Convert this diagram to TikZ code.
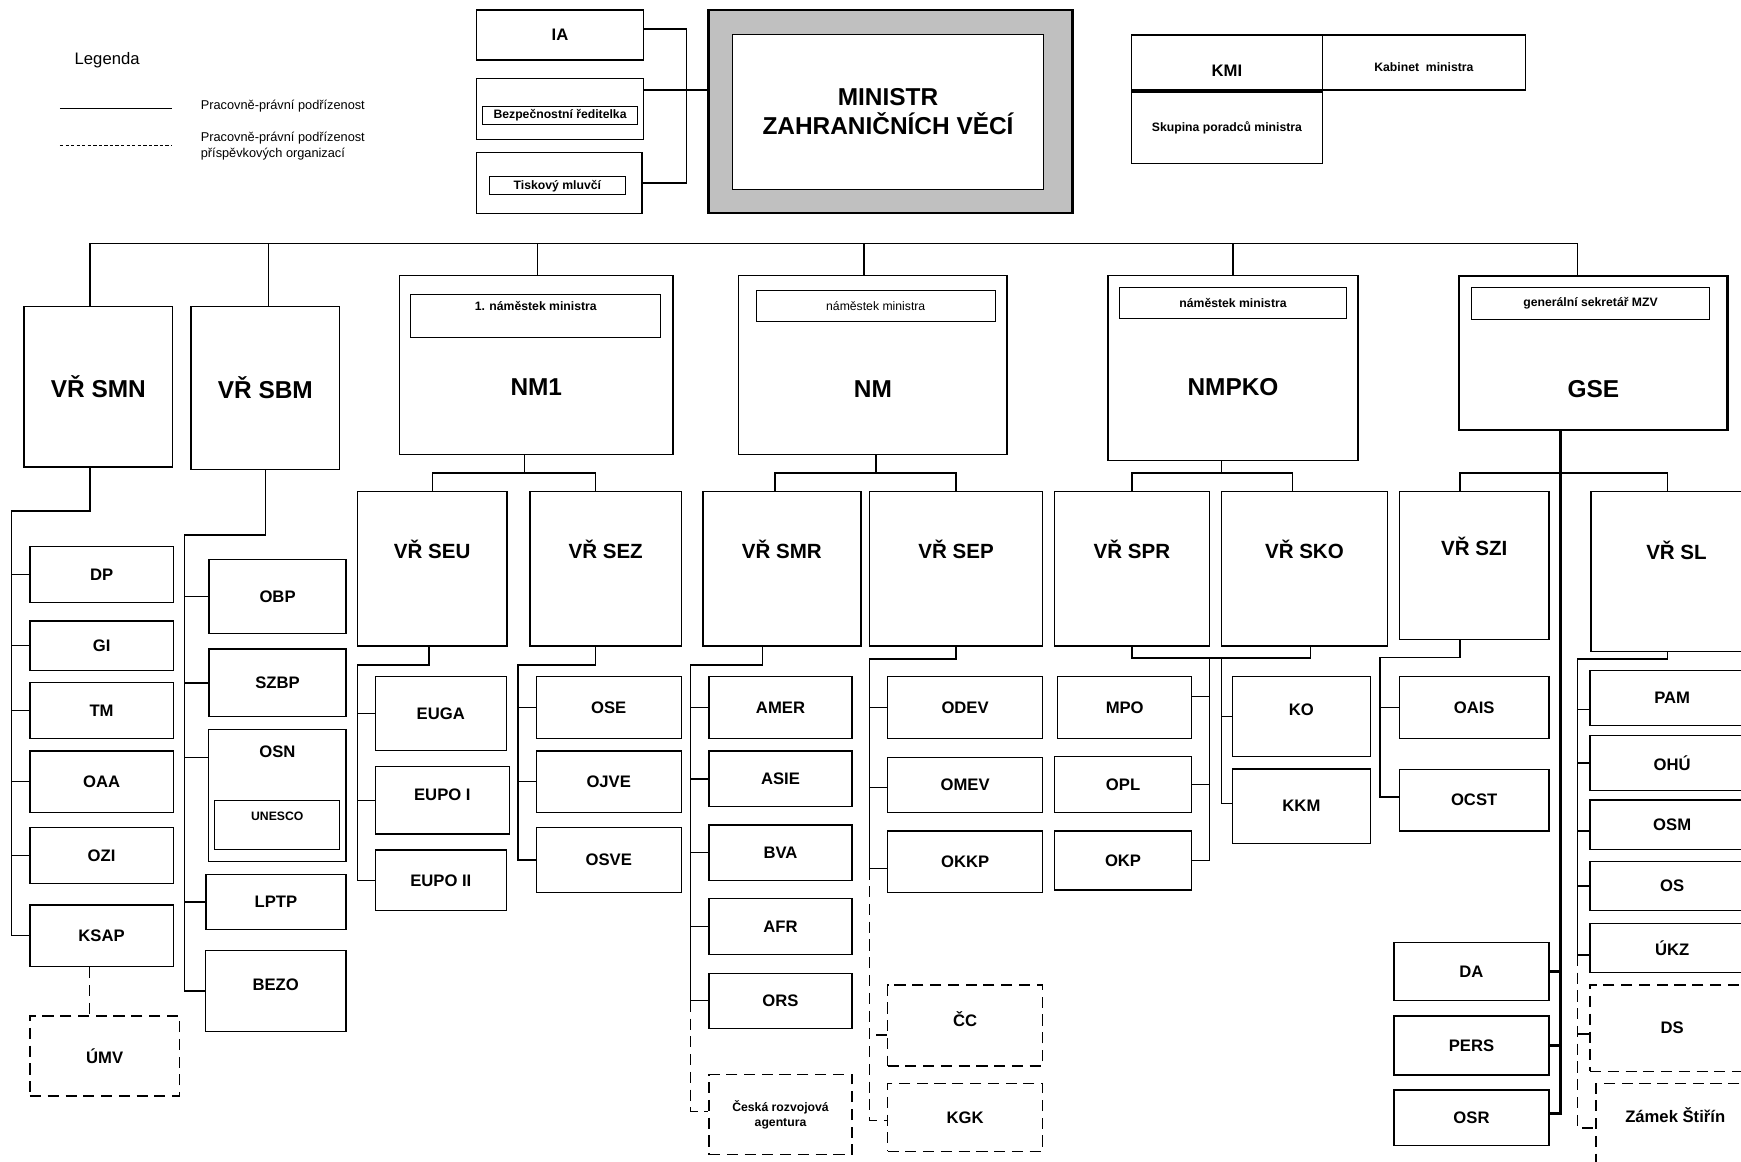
\documentclass[tikz,border=0pt]{standalone}
\usepackage{fontspec}
\setmainfont{Liberation Sans}
\usetikzlibrary{positioning}
\definecolor{mingray}{HTML}{C0C0C0}
\tikzset{
  sz/.style 2 args={minimum width=#1pt, minimum height=#2pt},
  box/.style={draw, line width=1.2pt, inner sep=0pt, align=center},
  leaf/.style={box, font=\bfseries\fontsize{15}{18}\selectfont},
  dleaf/.style={leaf, dash pattern=on 10pt off 6pt},
  big/.style={box, font=\bfseries\fontsize{22}{26}\selectfont},
  vr/.style={box, font=\bfseries\fontsize{18.5}{22}\selectfont, text height=13.2pt, text depth=32.6pt},
  tag/.style={box, line width=0.9pt, font=\bfseries\fontsize{11}{13}\selectfont},
  legtxt/.style={inner sep=0pt, anchor=west, align=left, font=\fontsize{11.5}{14.5}\selectfont},
  link/.style={line width=1.2pt},
  dlink/.style={line width=1.2pt, dash pattern=on 10pt off 6pt},
  trunk/.style={line width=2.2pt}
}
\begin{document}
\begin{tikzpicture}[x=1pt,y=-1pt]
\useasboundingbox (0,0) rectangle (1568,1046);
\clip (0,0) rectangle (1568,1046);
% legenda
\node[font=\fontsize{15}{18}\selectfont] (legenda) at (96.5,54) {Legenda};
\coordinate (lg1a) at (54,98);
\coordinate (lg1b) at (155,98);
\coordinate (lg2a) at (54,131);
\coordinate (lg2b) at (155,131);
\draw[link] (lg1a) -- (lg1b);
\draw[line width=0.7pt, dash pattern=on 3pt off 2pt] (lg2a) -- (lg2b);
\node[legtxt] (lgt1) at (180.7,96) {Pracovně-právní podřízenost};
\node[legtxt] (lgt2) at (180.7,131.5) {Pracovně-právní podřízenost\\příspěvkových organizací};

% ministr
\node[leaf, sz={150}{45}] (ia) at (504.4,31.5) {IA};
\node[box, sz={150}{55}] (bezp) at (504.4,98) {};
\node[tag, sz={140}{16.5}] (bezpt) at (504.4,103.8) {Bezpečnostní ředitelka};
\node[box, sz={148.7}{54.5}] (tisk) at (503.7,164.8) {};
\node[tag, sz={123}{16.6}] (tiskt) at (502,167.3) {Tiskový mluvčí};
\node[box, fill=mingray, line width=2.2pt, sz={328}{183}] (minbox) at (802,100.5) {};
\node[big, fill=white, line width=1pt, sz={279.5}{139.5}] (minister) at (799.8,100.8) {MINISTR\\ZAHRANIČNÍCH VĚCÍ};
\node[leaf, sz={171.6}{49.5}, text height=24.7pt, text depth=0pt] (kmi) at (1105,56.25) {KMI};
\node[tag, line width=1.2pt, sz={183.1}{49.5}, text height=15.9pt, text depth=0pt] (kab) at (1282.4,56.25) {Kabinet\ \ ministra};
\node[tag, line width=1.2pt, sz={171.6}{64}] (skup) at (1105,115) {Skupina poradců ministra};
\draw[link] ([yshift=5.5pt]ia.east) -| ([xshift=39.5pt]tisk.east) -- (tisk.east);
\draw[link] ([yshift=17pt]bezp.east) -- ([yshift=17pt]bezp.east -| minbox.west);

% sekce a namestci
\node[big, sz={134}{144.6}] (smn) at (88.6,348.3) {VŘ SMN};
\node[big, sz={134}{146.7}] (sbm) at (239,349.4) {VŘ SBM};
\node[big, sz={246}{161.2}, text height=53.75pt, text depth=0pt] (nm1) at (483,328.9) {NM1};
\node[tag, sz={225}{38.8}, text height=7.9pt, text depth=16.8pt] (nm1t) at (482.5,284.4) {1. náměstek ministra};
\node[big, sz={241.7}{161.2}, text height=57.75pt, text depth=0pt] (nm) at (786.2,328.9) {NM};
\node[tag, font=\fontsize{11}{13}\selectfont, sz={215}{27.7}] (nmt) at (788.7,275.9) {náměstek ministra};
\node[big, sz={225}{166.2}, text height=48.95pt, text depth=0pt] (nmpko) at (1110.5,331.4) {NMPKO};
\node[tag, sz={205}{28}] (nmpkot) at (1110.5,273) {náměstek ministra};
\node[big, line width=2.2pt, sz={242}{138.7}, text height=79.75pt, text depth=0pt] (gse) at (1435,317.7) {GSE};
\node[tag, sz={215}{28.3}] (gset) at (1432.5,273.2) {generální sekretář MZV};
\draw[link] ([xshift=-7.6pt]smn.north) -- ++(0,-56) -| ([xshift=-14pt]gse.north);
\draw[link] ([xshift=2.9pt]sbm.north) -- ++(0,-56);
\draw[link] ([xshift=1pt]nm1.north) -- ++(0,-28.3);
\draw[link] ([xshift=-8.2pt]nm.north) -- ++(0,-28.3);
\draw[link] (nmpko.north) -- ++(0,-28.3);

\node[vr, sz={134.5}{139}] (seu) at (389.25,512.3) {VŘ SEU};
\node[vr, sz={136.1}{139}] (sez) at (545.5,512.3) {VŘ SEZ};
\node[vr, sz={142.3}{139}] (smr) at (704.2,512.3) {VŘ SMR};
\node[vr, sz={155.8}{139}] (sep) at (861.1,512.3) {VŘ SEP};
\node[vr, sz={139.6}{139}] (spr) at (1019.4,512.3) {VŘ SPR};
\node[vr, sz={149.8}{139}] (sko) at (1174.8,512.3) {VŘ SKO};
\node[vr, sz={134.4}{133}, text depth=30.6pt] (szi) at (1327.8,509.3) {VŘ SZI};
\node[vr, sz={154.3}{144.2}, text depth=35.8pt] (sl) at (1509.9,514.9) {VŘ SL};
\draw[link] ([xshift=-10.5pt]nm1.south) -- ++(0,17);
\draw[link] (seu.north) -- ++(0,-16.3) -| ([xshift=-9.1pt]sez.north);
\draw[link] ([xshift=2.8pt]nm.south) -- ++(0,17);
\draw[link] ([xshift=-6.2pt]smr.north) -- ++(0,-16.3) -| (sep.north);
\draw[link] ([xshift=-10.5pt]nmpko.south) -- ++(0,12);
\draw[link] (spr.north) -- ++(0,-16.3) -| ([xshift=-10.8pt]sko.north);
\draw[link] ([xshift=-12.8pt]szi.north) -- ++(0,-16.3) -| ([xshift=-7.9pt]sl.north);

% odbory VR SMN
\node[leaf, sz={129}{50.4}] (dp) at (91.5,517.6) {DP};
\node[leaf, sz={129}{44.7}] (gi) at (91.5,581.65) {GI};
\node[leaf, sz={129}{50.2}] (tm) at (91.5,639.9) {TM};
\node[leaf, sz={129}{55.2}] (oaa) at (91.5,704) {OAA};
\node[leaf, sz={129}{50.2}] (ozi) at (91.5,770.5) {OZI};
\node[leaf, sz={129}{55.6}] (ksap) at (91.5,842.8) {KSAP};
\node[dleaf, sz={134.6}{72}] (umv) at (94.3,951) {ÚMV};
\draw[link] ([xshift=-7.6pt]smn.south) -- ++(0,39) -| ([xshift=-16pt]ksap.west) -- (ksap.west);
\draw[link] (dp.west) -- ++(-16,0);
\draw[link] (gi.west) -- ++(-16,0);
\draw[link] (tm.west) -- ++(-16,0);
\draw[link] (oaa.west) -- ++(-16,0);
\draw[link] (ozi.west) -- ++(-16,0);
\draw[dlink] ([xshift=-11pt]ksap.south) -- ([xshift=-13.8pt]umv.north);

% odbory VR SBM
\node[leaf, sz={123.3}{66.6}] (obp) at (250,537.1) {OBP};
\node[leaf, sz={123.3}{61}] (szbp) at (250,615) {SZBP};
\node[leaf, sz={123.6}{119}, text height=10.7pt, text depth=79pt] (osn) at (249.8,716.5) {OSN};
\node[tag, sz={112.6}{44.5}, text height=7.9pt, text depth=15.5pt] (unesco) at (249.7,742.75) {UNESCO};
\node[leaf, sz={126.2}{49.5}] (lptp) at (248.5,812.25) {LPTP};
\node[leaf, sz={126.6}{72.8}, text height=10.7pt, text depth=11.2pt] (bezo) at (248.3,892.6) {BEZO};
\draw[link] (sbm.south) -- ++(0,58.6) -| ([xshift=-18.2pt]bezo.west) -- (bezo.west);
\draw[link] (obp.west) -- ++(-21.5,0);
\draw[link] (szbp.west) -- ++(-21.5,0);
\draw[link] ([yshift=34.5pt]osn.west) -- ++(-21.2,0);
\draw[link] (lptp.west) -- ++(-18.6,0);

% odbory VR SEU, SEZ
\node[leaf, sz={118}{66.5}] (euga) at (397,642.75) {EUGA};
\node[leaf, sz={120.8}{60.5}, text height=10.7pt, text depth=9.5pt] (eupo1) at (398.4,720.75) {EUPO I};
\node[leaf, sz={118}{54.4}] (eupo2) at (397,792.8) {EUPO II};
\draw[link] ([xshift=-2.75pt]seu.south) -- ++(0,16.5) -| ([xshift=-15.5pt]eupo2.west) -- (eupo2.west);
\draw[link] (euga.west) -- ++(-15.5,0);
\draw[link] (eupo1.west) -- ++(-15.5,0);
\node[leaf, sz={130.5}{55.5}] (ose) at (548.25,637.25) {OSE};
\node[leaf, sz={130.5}{55.2}] (ojve) at (548.25,704) {OJVE};
\node[leaf, sz={130.5}{58.3}] (osve) at (548.25,774.55) {OSVE};
\draw[link] ([xshift=-9.1pt]sez.south) -- ++(0,16.5) -| ([xshift=-16pt]osve.west) -- (osve.west);
\draw[link] (ose.west) -- ++(-16,0);
\draw[link] (ojve.west) -- ++(-16,0);

% odbory VR SMR, SEP
\node[leaf, sz={128.7}{55.5}] (amer) at (702.95,637.25) {AMER};
\node[leaf, sz={128.7}{50.1}] (asie) at (702.95,701.45) {ASIE};
\node[leaf, sz={128.7}{50}] (bva) at (702.95,768) {BVA};
\node[leaf, sz={128.7}{50.5}] (afr) at (702.95,834.25) {AFR};
\node[leaf, sz={128.7}{49.4}] (ors) at (702.95,901.3) {ORS};
\node[dleaf, font=\bfseries\fontsize{11}{14}\selectfont, sz={128.7}{72}] (cra) at (702.95,1004) {Česká rozvojová\\agentura};
\draw[link] ([xshift=-17.2pt]smr.south) -- ++(0,16.5) -| ([xshift=-16.1pt]ors.west) -- (ors.west);
\draw[dlink] ([xshift=-16.1pt]ors.west) |- ([yshift=3pt]cra.west);
\draw[link] (amer.west) -- ++(-16.1,0);
\draw[link] (asie.west) -- ++(-16.1,0);
\draw[link] (bva.west) -- ++(-16.1,0);
\draw[link] (afr.west) -- ++(-16.1,0);
\node[leaf, sz={139.6}{55.5}] (odev) at (869.2,637.25) {ODEV};
\node[leaf, sz={139.6}{49.6}] (omev) at (869.2,706.8) {OMEV};
\node[leaf, sz={139.6}{55.2}] (okkp) at (869.2,776.1) {OKKP};
\node[dleaf, sz={139.6}{73}, text height=10.7pt, text depth=9.6pt] (cc) at (869.2,923.5) {ČC};
\node[dleaf, sz={139.6}{61}] (kgk) at (869.2,1006.5) {KGK};
\draw[link] (sep.south) -- ++(0,11.2) -| ([xshift=-15.9pt,yshift=-6pt]okkp.west) -- ([yshift=-6pt]okkp.west);
\draw[dlink] ([xshift=-15.9pt,yshift=-6pt]okkp.west) |- ([yshift=-2.5pt]kgk.west);
\draw[dlink] ([yshift=-8.5pt]cc.west) -- ++(-15.9,0);
\draw[link] (odev.west) -- ++(-15.9,0);
\draw[link] ([yshift=-2.6pt]omev.west) -- ++(-15.9,0);

% odbory VR SPR, SKO
\node[leaf, sz={120.7}{55.6}] (mpo) at (1012.95,637.2) {MPO};
\node[leaf, sz={123.7}{50.1}] (opl) at (1011.45,706.55) {OPL};
\node[leaf, sz={123.7}{53}] (okp) at (1011.45,775) {OKP};
\node[leaf, sz={123.8}{72.1}, text height=10.7pt, text depth=13pt] (ko) at (1172.1,645.45) {KO};
\node[leaf, sz={123.8}{66.9}] (kkm) at (1172.1,726.05) {KKM};
\draw[link] (spr.south) -- ++(0,10.2) -| ([xshift=5.2pt]sko.south);
\draw[link] (okp.east) -| ([xshift=69.8pt,yshift=-10.2pt]spr.south);
\draw[link] ([yshift=9.7pt]mpo.east) -- ++(15.9,0);
\draw[link] (opl.east) -- ++(15.9,0);
\draw[link] ([yshift=2.5pt]kkm.west) -| ([xshift=-74.8pt,yshift=-10.2pt]sko.south);
\draw[link] (ko.west) -- ++(-10.2,0);

% odbory VR SZI a GSE
\node[leaf, sz={134.7}{55.5}] (oais) at (1327.65,637.25) {OAIS};
\node[leaf, sz={134.7}{55.5}] (ocst) at (1327.65,720.65) {OCST};
\draw[link] ([xshift=-13pt]szi.south) -- ++(0,16) -| ([xshift=-16.8pt,yshift=3pt]ocst.west) -- ([yshift=3pt]ocst.west);
\draw[link] (oais.west) -- ++(-16.8,0);
\node[leaf, sz={139.5}{52.6}] (da) at (1325.25,875) {DA};
\node[leaf, sz={139.5}{53.2}] (pers) at (1325.25,941.6) {PERS};
\node[leaf, sz={139.5}{50.2}] (osr) at (1325.25,1006.8) {OSR};
\draw[trunk] ([xshift=-29.5pt]gse.south) |- ([yshift=4pt]osr.east);
\draw[trunk] (da.east) -- ++(10.5,0);
\draw[trunk] (pers.east) -- ++(10.5,0);

% odbory VR SL
\node[leaf, sz={148}{49.6}] (pam) at (1506,628.8) {PAM};
\node[leaf, sz={148}{49.4}] (ohu) at (1506,687.3) {OHÚ};
\node[leaf, sz={148}{44.5}] (osm) at (1506,742.75) {OSM};
\node[leaf, sz={148}{44}] (os) at (1506,798) {OS};
\node[leaf, sz={148}{44}] (ukz) at (1506,854) {ÚKZ};
\node[dleaf, sz={148}{78}] (ds) at (1506,926) {DS};
\node[dleaf, sz={142.5}{84}, text height=10.7pt, text depth=24.6pt] (zam) at (1508.75,1018) {Zámek Štiřín};
\draw[link] ([xshift=-7.9pt]sl.south) -- ++(0,6) -| ([xshift=-10.4pt,yshift=-6pt]ukz.west) -- ([yshift=-6pt]ukz.west);
\draw[dlink] ([xshift=-10.4pt,yshift=-6pt]ukz.west) |- ([yshift=2pt]zam.west);
\draw[dlink] ([yshift=-5.3pt]ds.west) -- ++(-10.4,0);
\draw[link] ([yshift=-10.1pt]pam.west) -- ++(-10.4,0);
\draw[link] (ohu.west) -- ++(-10.4,0);
\draw[link] ([yshift=-5.75pt]osm.west) -- ++(-10.4,0);
\draw[link] (os.west) -- ++(-10.4,0);
\end{tikzpicture}
\end{document}
